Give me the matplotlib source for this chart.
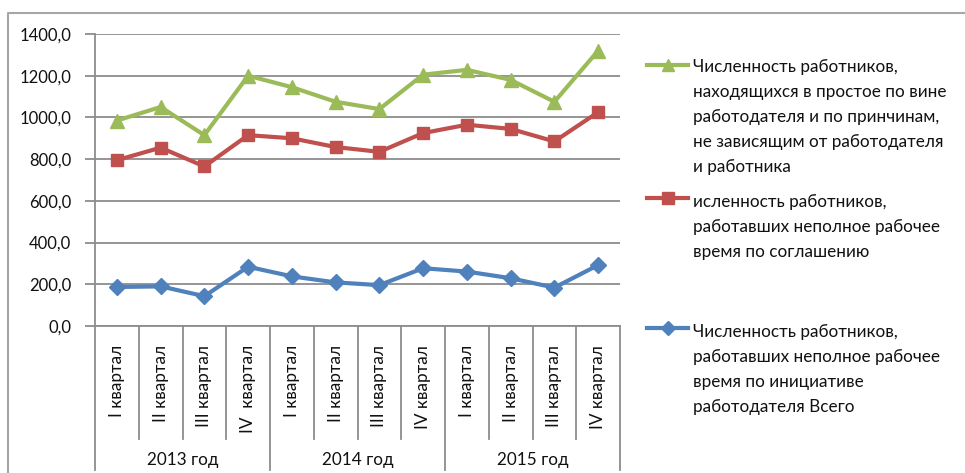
import matplotlib
matplotlib.use("Agg")
import matplotlib.pyplot as plt
from matplotlib.lines import Line2D

plt.rcParams["font.family"] = ["Lato", "DejaVu Sans"]

# ---- data -------------------------------------------------------------
quarters = ["I квартал", "II квартал", "III квартал", "IV  квартал",
            "I квартал", "II квартал", "III квартал", "IV квартал",
            "I квартал", "II квартал", "III квартал", "IV квартал"]
years = ["2013 год", "2014 год", "2015 год"]

idle_workers = [985, 1050, 915, 1200, 1145, 1075, 1040, 1205, 1228, 1180, 1075, 1320]
part_time_agreement = [795, 855, 765, 915, 900, 858, 835, 925, 965, 945, 885, 1025]
part_time_employer = [187, 190, 143, 284, 238, 209, 196, 277, 261, 229, 184, 292]

yticks = [0, 200, 400, 600, 800, 1000, 1200, 1400]

label_idle = ("Численность работников,\nнаходящихся в простое по вине\n"
              "работодателя и по принчинам,\nне зависящим от работодателя\nи работника")
label_agreement = "исленность работников,\nработавших неполное рабочее\nвремя по соглашению"
label_employer = ("Численность работников,\nработавших неполное рабочее\n"
                  "время по инициативе\nработодателя Всего")

GREEN, RED, BLUE = "#9BBB59", "#C0504D", "#4F81BD"
GRID = "#8C8C8C"
TXT = "#111111"

# ---- figure layout (pixel based) -------------------------------------
W, H = 965, 473
fig = plt.figure(figsize=(W / 100, H / 100), dpi=100)
x0, x1, y_top, y_bot = 95, 620, 34, 326
ax = fig.add_axes([x0 / W, 1 - y_bot / H, (x1 - x0) / W, (y_bot - y_top) / H])
ph = y_bot - y_top  # plot height in px

xs = list(range(len(quarters)))
series = [
    (part_time_employer, BLUE, "D", 8.5),
    (part_time_agreement, RED, "s", 9),
    (idle_workers, GREEN, "^", 10),
]
for vals, col, mk, ms in series:
    ax.plot(xs, vals, color=col, lw=3, marker=mk, ms=ms, mec=col, mfc=col,
            clip_on=False, zorder=3)

ax.set_xlim(-0.5, len(quarters) - 0.5)
ax.set_ylim(yticks[0], yticks[-1])
ax.set_yticks(yticks)
ax.set_yticklabels([f"{v:.1f}".replace(".", ",") for v in yticks])
ax.yaxis.grid(True, color=GRID, lw=1.3)
ax.set_axisbelow(True)
for s in ("top", "right"):
    ax.spines[s].set_visible(False)
for s in ("left", "bottom"):
    ax.spines[s].set_color(GRID)
    ax.spines[s].set_linewidth(1.3)
ax.tick_params(axis="y", length=7, width=1.3, color=GRID, labelsize=12,
               pad=10, labelcolor=TXT)
ax.set_xticks([])

# multi-level category axis: separators and labels
trans = ax.get_xaxis_transform()
for k in range(len(quarters) + 1):
    ybot = -(470 - y_bot) / ph if k % 4 == 0 else -(439 - y_bot) / ph
    ax.plot([k - 0.5, k - 0.5], [0, ybot], transform=trans, clip_on=False,
            color=GRID, lw=1.3)
for i, q in enumerate(quarters):
    ax.text(i, -19 / ph, q, transform=trans, rotation=90, ha="center",
            va="top", fontsize=12.3, color=TXT)
for j, yr in enumerate(years):
    ax.text(4 * j + 1.5, -(460 - y_bot) / ph, yr, transform=trans,
            ha="center", va="center", fontsize=12.3, color=TXT)

# legend drawn beside the plot
entries = [
    (label_idle, GREEN, "^", 9, 65, 67),
    (label_agreement, RED, "s", 8, 198, 202),
    (label_employer, BLUE, "D", 7, 328, 332),
]
for text, col, mk, ms, ys, yt in entries:
    fy = 1 - ys / H
    fig.add_artist(Line2D([647 / W, 688 / W], [fy, fy], color=col, lw=3))
    fig.add_artist(Line2D([667.5 / W], [fy], color=col, marker=mk, ms=ms,
                          mec=col, mfc=col))
    for n, line in enumerate(text.split("\n")):
        fig.text(693 / W, 1 - (yt + 25 * n) / H, line, ha="left",
                 va="center", fontsize=12.3, color=TXT)

# chart-area border (top and left edges)
fig.add_artist(Line2D([8 / W, 8 / W, 1], [0, 1 - 13 / H, 1 - 13 / H],
                      color="#A6A6A6", lw=1.5))

fig.savefig("out.png", dpi=100)
